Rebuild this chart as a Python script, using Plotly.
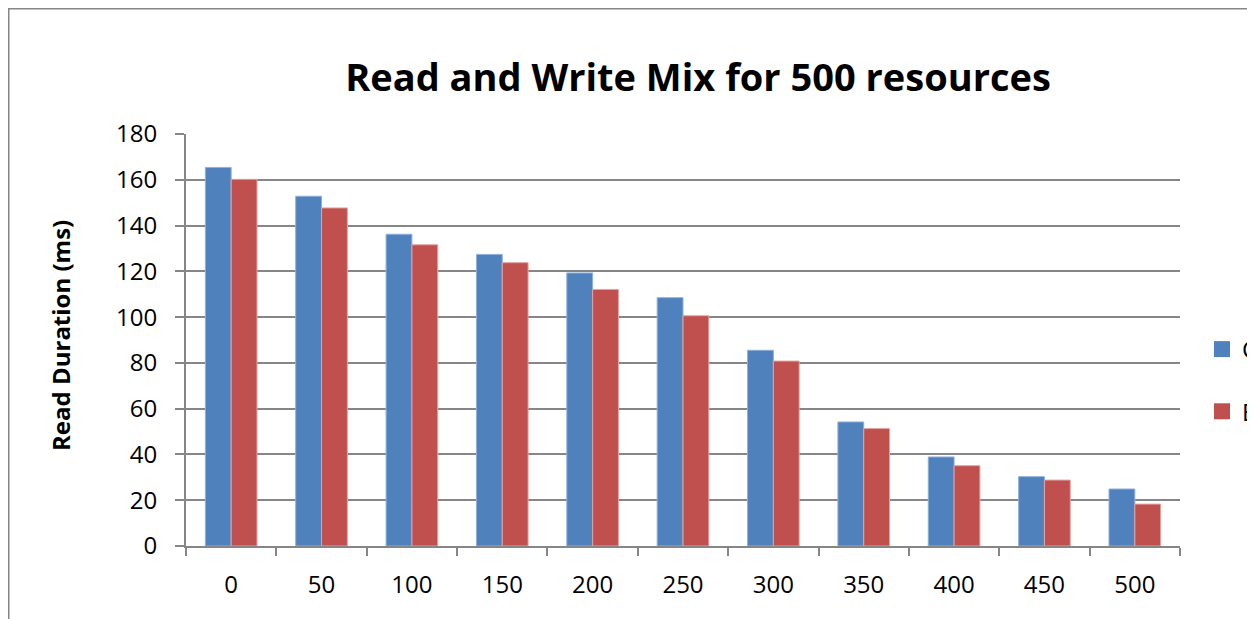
import plotly.graph_objects as go

categories = ["0", "50", "100", "150", "200", "250", "300", "350", "400", "450", "500"]
series_c = [165.4, 152.8, 136.2, 127.4, 119.3, 108.5, 85.5, 54.2, 38.9, 30.3, 24.9]
series_e = [160.2, 147.7, 131.6, 123.8, 112.1, 100.6, 80.8, 51.3, 35.1, 28.8, 18.3]
name_c = "Cached"
name_e = "Eager"
title_text = "Read and Write Mix for 500 resources"
y_title = "Read Duration (ms)"

# page body has an 8px margin; figure coords = screen coords - 8
W, H = 1255, 619
L, R, T, B = 178, 83, 126, 81
pw, ph = W - L - R, H - T - B

font = "'Open Sans', Lato, sans-serif"
grid = "#868686"
blue, red = "#4F81BD", "#C0504D"

fig = go.Figure()
fig.add_trace(go.Bar(x=categories, y=series_c, name=name_c, legendgroup="c", showlegend=False,
                     marker=dict(color=blue, line=dict(color="#8EB0DA", width=1))))
fig.add_trace(go.Bar(x=categories, y=series_e, name=name_e, legendgroup="e", showlegend=False,
                     marker=dict(color=red, line=dict(color="#E3A3A1", width=1))))
# legend-only entries with larger square keys
fig.add_trace(go.Scatter(x=[None], y=[None], mode="markers", name=name_c, legendgroup="c",
                         marker=dict(symbol="square", size=16, color=blue)))
fig.add_trace(go.Scatter(x=[None], y=[None], mode="markers", name=name_e, legendgroup="e",
                         marker=dict(symbol="square", size=16, color=red)))


def px_x(px):
    return (px - L) / pw


def px_y(py):
    return (H - B - py) / ph


fig.update_layout(
    width=W, height=H,
    margin=dict(l=L, r=R, t=T, b=B, pad=0, autoexpand=False),
    paper_bgcolor="white", plot_bgcolor="white",
    bargap=0.4286, bargroupgap=0, barmode="group",
    font=dict(family=font, size=24, color="black"),
    title=dict(text="<b>" + title_text + "</b>", x=690 / W, xanchor="center",
               y=1 - 70 / H, yanchor="middle", font=dict(size=38, family=font)),
    xaxis=dict(type="category", showline=True, linecolor=grid, linewidth=2, ticks="outside",
               tickson="boundaries", ticklen=8, tickcolor=grid, tickwidth=2,
               showgrid=False, tickfont=dict(size=24), fixedrange=True,
               ticklabelstandoff=16),
    yaxis=dict(range=[0, 180], dtick=20, showline=True, linecolor=grid, linewidth=2,
               ticks="outside", ticklen=9, tickcolor=grid, tickwidth=2,
               showgrid=True, gridcolor=grid, gridwidth=2, zeroline=False,
               tickfont=dict(size=24), ticklabelstandoff=13, fixedrange=True),
    legend=dict(x=px_x(1194), y=px_y(319), xanchor="left", yanchor="top",
                font=dict(size=24), traceorder="grouped", tracegroupgap=28,
                bgcolor="rgba(0,0,0,0)", itemwidth=30),
    showlegend=True,
    annotations=[dict(text="<b>" + y_title + "</b>", textangle=-90,
                      xref="paper", yref="paper", x=px_x(52), y=px_y(328),
                      xanchor="center", yanchor="middle", showarrow=False,
                      font=dict(size=24, family=font, color="black"))],
    shapes=[dict(type="rect", xref="paper", yref="paper",
                 x0=px_x(0.5), x1=px_x(W + 20), y0=px_y(H + 20), y1=px_y(0.5),
                 line=dict(color=grid, width=2), fillcolor="rgba(0,0,0,0)",
                 layer="below")],
)

fig.write_html("out.html")
